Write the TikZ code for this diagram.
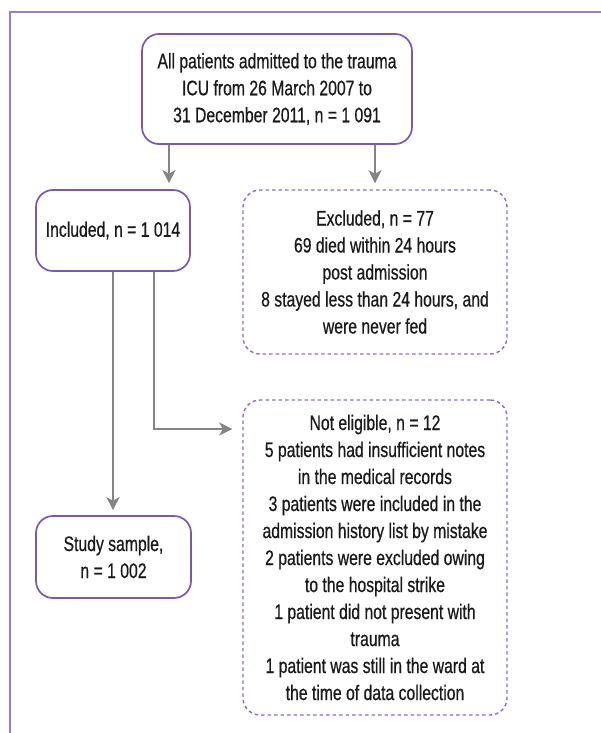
\documentclass[tikz,border=0pt]{standalone}
\usepackage{fontspec}
\setmainfont{Liberation Sans}[FakeStretch=0.75,FakeBold=0.6]
\usetikzlibrary{arrows.meta}
\definecolor{boxpurple}{HTML}{7E57B5}
\definecolor{dashpurple}{HTML}{8F6CC0}
\definecolor{framepurple}{HTML}{9C7CC8}
\definecolor{arrowgray}{HTML}{858585}
\definecolor{txt}{HTML}{1A1A1A}
\tikzset{
  solidbox/.style={draw=boxpurple, line width=1.7pt, rounded corners=17pt, inner sep=0pt, align=center, text=txt,
    font=\fontsize{21}{27}\selectfont},
  dashbox/.style={solidbox, draw=dashpurple, line width=1.4pt, dash pattern=on 3.5pt off 3pt},
  arr/.style={draw=arrowgray, line width=2.8pt, -{Stealth[length=13pt,width=13pt,inset=3.5pt]}},
}
\begin{document}
\begin{tikzpicture}[x=1pt,y=-1pt]
\useasboundingbox (0,0) rectangle (600,733);
\draw[framepurple, line width=2.6pt] (601,12) -- (10,12) -- (10,734);

\node[solidbox, minimum width=270pt, minimum height=110pt] (top) at (277,89)
  {All patients admitted to the trauma\\ICU from 26 March 2007 to\\31 December 2011, n = 1 091};
\node[solidbox, minimum width=154pt, minimum height=81pt] (incl) at (113,230.5)
  {Included, n = 1 014};
\node[dashbox, minimum width=264pt, minimum height=164pt] (excl) at (375,272)
  {Excluded, n = 77\\69 died within 24 hours\\post admission\\8 stayed less than 24 hours, and\\were never fed};
\node[dashbox, minimum width=264pt, minimum height=315pt] (notel) at (375,557.5)
  {Not eligible, n = 12\\5 patients had insufficient notes\\in the medical records\\3 patients were included in the\\admission history list by mistake\\2 patients were excluded owing\\to the hospital strike\\1 patient did not present with\\trauma\\1 patient was still in the ward at\\the time of data collection};
\node[solidbox, minimum width=155pt, minimum height=82pt] (study) at (113.5,557)
  {Study sample,\\n = 1 002};

\coordinate (c1) at (169,0);
\coordinate (elbow) at (154,429);
\draw[arr, shorten >=6pt] (top.south -| c1) -- (c1 |- incl.north);
\draw[arr, shorten >=6pt] (top.south -| excl.north) -- (excl.north);
\draw[arr, shorten >=5pt] (incl.south) -- (incl.south |- study.north);
\draw[arr, shorten >=10pt] (incl.south -| elbow) -- (elbow) -- (elbow -| notel.west);
\end{tikzpicture}
\end{document}
